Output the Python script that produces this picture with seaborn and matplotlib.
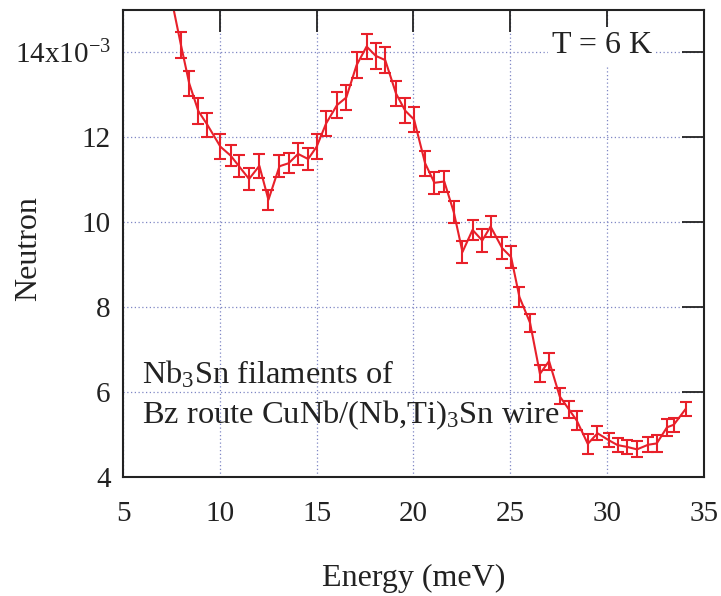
import numpy as np
import pandas as pd
import matplotlib
matplotlib.use("Agg")
import matplotlib.pyplot as plt
import seaborn as sns

# --- DATA (neutron counts in units of 1e-3) ---
energy = [7.45, 7.99, 8.42, 8.89, 9.35, 10.03, 10.56, 10.99, 11.51, 12.04, 12.51,
          13.08, 13.55, 14.04, 14.56, 15.00, 15.49, 16.05, 16.53, 17.06, 17.58,
          18.05, 18.54, 19.10, 19.57, 20.03, 20.60, 21.08, 21.59, 22.08, 22.53,
          23.05, 23.55, 23.98, 24.58, 25.04, 25.47, 26.02, 26.53, 27.00, 27.55,
          28.03, 28.43, 29.00, 29.50, 30.07, 30.54, 31.02, 31.54, 32.12, 32.56,
          33.09, 33.44, 34.05]
neutron = [15.38, 14.18, 13.27, 12.62, 12.30, 11.78, 11.57, 11.32, 11.02, 11.33, 10.53,
           11.32, 11.39, 11.61, 11.49, 11.78, 12.33, 12.76, 12.94, 13.70, 14.14,
           13.92, 13.82, 13.03, 12.63, 12.42, 11.39, 10.93, 10.96, 10.24, 9.30,
           9.82, 9.57, 9.90, 9.39, 9.18, 8.24, 7.63, 6.43, 6.73, 5.90,
           5.59, 5.33, 4.78, 5.03, 4.87, 4.75, 4.71, 4.65, 4.76, 4.79,
           5.17, 5.23, 5.60]
error = [0.30, 0.30, 0.30, 0.30, 0.28, 0.30, 0.25, 0.26, 0.25, 0.28, 0.24,
         0.26, 0.24, 0.25, 0.26, 0.29, 0.30, 0.30, 0.29, 0.30, 0.30,
         0.30, 0.30, 0.30, 0.30, 0.30, 0.30, 0.26, 0.25, 0.25, 0.25,
         0.24, 0.26, 0.25, 0.26, 0.25, 0.24, 0.21, 0.20, 0.20, 0.19,
         0.19, 0.22, 0.24, 0.16, 0.17, 0.17, 0.17, 0.19, 0.18, 0.19,
         0.20, 0.17, 0.17]

x_ticks = [5, 10, 15, 20, 25, 30, 35]
y_ticks = [4, 6, 8, 10, 12, 14]
y_tick_labels = ['4', '6', '8', '10', '12', r'14x10$^{-3}$']

df = pd.DataFrame({'Energy': energy, 'Neutron': neutron, 'Err': error})

# --- STYLE ---
sns.set_theme(style='white')
plt.rcParams['font.family'] = ['Liberation Serif', 'DejaVu Serif']
plt.rcParams['mathtext.fontset'] = 'custom'
plt.rcParams['mathtext.rm'] = 'Liberation Serif'
plt.rcParams['mathtext.default'] = 'regular'
red = '#e8202a'
grid_col = '#7f86c4'
ink = '#222222'

fig = plt.figure(figsize=(7.21, 5.96), dpi=100)
ax = fig.add_axes([0.1706, 0.1997, 0.8058, 0.7835])

ax.grid(True, color=grid_col, ls=(0, (1, 2)), lw=0.9)
sns.lineplot(data=df, x='Energy', y='Neutron', color=red, lw=1.5, ax=ax)
ax.errorbar(df['Energy'], df['Neutron'], yerr=df['Err'], fmt='none',
            ecolor=red, elinewidth=1.5, capsize=4.5, capthick=1.5)

ax.set_xlim(5, 35)
ax.set_ylim(4, 15)
ax.set_xticks(x_ticks)
ax.set_yticks(y_ticks)
ax.set_yticklabels(y_tick_labels)
ax.tick_params(direction='in', length=16, width=1.3, top=True, right=True,
               labelsize=21, colors=ink)
ax.tick_params(axis='x', pad=17)
ax.tick_params(axis='y', pad=9)
for sp in ax.spines.values():
    sp.set_linewidth(1.5)
    sp.set_color(ink)

ax.set_xlabel('Energy (meV)', fontsize=23, color=ink, labelpad=27)
ax.set_ylabel('Neutron', fontsize=23, color=ink)
ax.yaxis.set_label_coords(-0.138, 0.49)

ax.text(0.738, 0.907, 'T = 6 K', transform=ax.transAxes, fontsize=23,
        color=ink, va='baseline',
        bbox=dict(facecolor='white', edgecolor='none', pad=3))
ax.text(0.032, 0.201, r'Nb$_3$Sn filaments of', transform=ax.transAxes,
        fontsize=23.4, color=ink, va='baseline')
ax.text(0.032, 0.116, r'Bz route CuNb/(Nb,Ti)$_3$Sn wire', transform=ax.transAxes,
        fontsize=23.4, color=ink, va='baseline')

fig.savefig('out.png', dpi=100)
